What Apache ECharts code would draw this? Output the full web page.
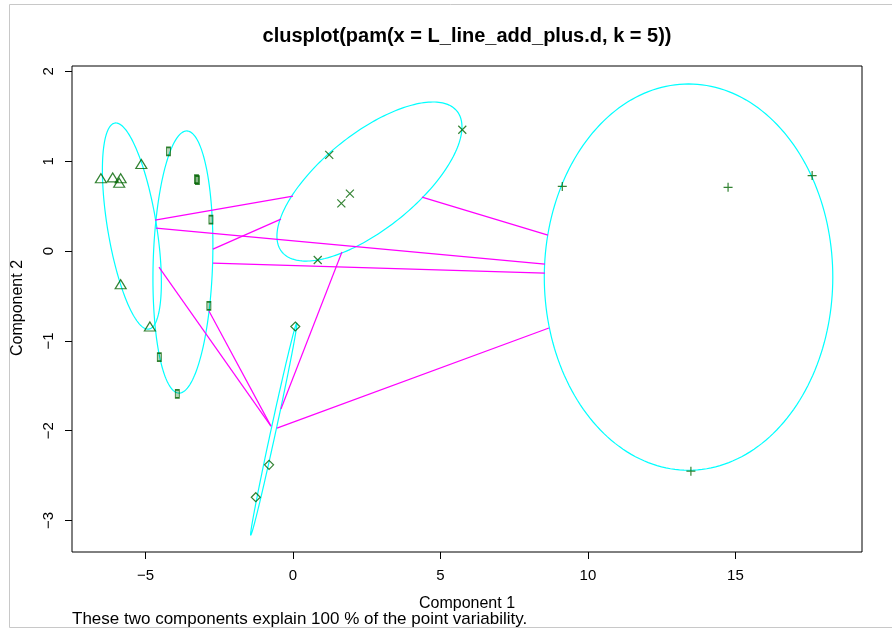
<!DOCTYPE html>
<html>
<head>
<meta charset="utf-8">
<script src="https://cdn.jsdelivr.net/npm/echarts@6/dist/echarts.min.js"></script>
<style>
  html, body { margin: 0; padding: 0; background: #fff; }
  #main { width: 892px; height: 630px; }
</style>
</head>
<body>
<div id="main"></div>
<script>
// points of each cluster (component 1 / component 2)
var triX = [-6.51, -6.11, -5.84, -5.89, -5.14, -5.84, -4.85];
var triY = [0.81, 0.82, 0.81, 0.76, 0.97, -0.37, -0.84];
var rectX = [-4.22, -3.27, -3.24, -2.78, -2.85, -4.53, -3.92];
var rectY = [1.11, 0.80, 0.79, 0.35, -0.61, -1.18, -1.59];
var crossX = [1.23, 5.74, 1.93, 1.64, 0.84];
var crossY = [1.07, 1.35, 0.64, 0.53, -0.10];
var diaX = [0.08, -0.81, -1.26];
var diaY = [-0.84, -2.38, -2.74];
var plusX = [9.13, 14.75, 17.60, 13.49];
var plusY = [0.72, 0.71, 0.84, -2.45];

// ellipses: centre and two conjugate half axes
var ellCX = [-5.46, -3.73, 2.593, -0.651, 13.41];
var ellCY = [0.278, -0.122, 0.774, -1.982, -0.29];
var ellU = [[-0.576, 1.147], [0.136, 1.459], [3.136, 0.608], [0.780, 1.180], [4.89, 0]];
var ellV = [[0.817, 0.044], [1.007, -0.010], [0, 0.6436], [0.0827, -0.0059], [0, 2.15]];

// distance segments between ellipses
var segFrom = [[-4.678, 0.345], [-4.644, 0.256], [-2.712, 0.022], [-2.712, -0.134], [4.373, 0.601],
               [1.661, -0.011], [-4.542, -0.178], [-2.847, -0.668], [-0.542, -1.971]];
var segTo = [[0.0, 0.612], [8.542, -0.145], [-0.407, 0.356], [8.542, -0.245], [8.644, 0.178],
             [-0.407, -1.759], [-0.746, -1.949], [-0.746, -1.949], [8.678, -0.857]];

var xTicks = [-5, 0, 5, 10, 15];
var yTicks = [-3, -2, -1, 0, 1, 2];

var GREEN = '#006400';
var FONT = '"Liberation Sans", Arial, sans-serif';

function pairs(xs, ys) {
    var out = [];
    for (var i = 0; i < xs.length; i++) out.push([xs[i], ys[i]]);
    return out;
}
function fmt(v) {
    return v < 0 ? '\u2212' + Math.abs(v) : String(v);
}

var ellData = [];
for (var i = 0; i < ellCX.length; i++) ellData.push([ellCX[i], ellCY[i], i]);

var segData = [];
for (var j = 0; j < segFrom.length; j++) segData.push({coords: [segFrom[j], segTo[j]]});

var chart = echarts.init(document.getElementById('main'));
var option = {
    animation: false,
    backgroundColor: '#fff',
    grid: {left: 72, top: 66, width: 790, height: 486, show: true, borderColor: '#000', borderWidth: 1},
    xAxis: {
        type: 'value', min: -7.49, max: 19.29,
        splitLine: {show: false}, axisLine: {show: false, onZero: false},
        axisTick: {show: true, length: 7, lineStyle: {color: '#000'}, customValues: xTicks},
        axisLabel: {color: '#000', fontSize: 15, fontFamily: FONT, margin: 16, customValues: xTicks, formatter: fmt}
    },
    yAxis: {
        type: 'value', min: -3.35, max: 2.06,
        splitLine: {show: false}, axisLine: {show: false, onZero: false},
        axisTick: {show: true, length: 7, lineStyle: {color: '#000'}, customValues: yTicks},
        axisLabel: {color: '#000', fontSize: 15, fontFamily: FONT, margin: 16, rotate: 90, customValues: yTicks, formatter: fmt}
    },
    graphic: [
        {type: 'line', shape: {x1: 9.5, y1: 4.5, x2: 892, y2: 4.5}, style: {stroke: '#c8c8c8', lineWidth: 1}},
        {type: 'line', shape: {x1: 9.5, y1: 4.5, x2: 9.5, y2: 627.5}, style: {stroke: '#c8c8c8', lineWidth: 1}},
        {type: 'line', shape: {x1: 9.5, y1: 627.5, x2: 892, y2: 627.5}, style: {stroke: '#c8c8c8', lineWidth: 1}},
        {type: 'text', x: 467, y: 36, style: {text: 'clusplot(pam(x = L_line_add_plus.d, k = 5))', fill: '#000',
            font: 'bold 20px ' + FONT, textAlign: 'center', textVerticalAlign: 'middle'}},
        {type: 'text', x: 467, y: 604, style: {text: 'Component 1', fill: '#000',
            font: '16px ' + FONT, textAlign: 'center', textVerticalAlign: 'middle'}},
        {type: 'text', x: 72, y: 619, style: {text: 'These two components explain 100 % of the point variability.', fill: '#000',
            font: '17px ' + FONT, textAlign: 'left', textVerticalAlign: 'middle'}},
        {type: 'text', x: 18, y: 308, rotation: Math.PI / 2, style: {text: 'Component 2', fill: '#000',
            font: '16px ' + FONT, textAlign: 'center', textVerticalAlign: 'middle'}}
    ],
    series: [
        {
            type: 'custom', clip: false, data: ellData, z: 2,
            renderItem: function (params, api) {
                var k = api.value(2);
                var pts = [];
                for (var t = 0; t < 200; t++) {
                    var a = t / 200 * Math.PI * 2;
                    pts.push(api.coord([
                        ellCX[k] + ellU[k][0] * Math.cos(a) + ellV[k][0] * Math.sin(a),
                        ellCY[k] + ellU[k][1] * Math.cos(a) + ellV[k][1] * Math.sin(a)
                    ]));
                }
                return {type: 'polygon', shape: {points: pts}, style: {fill: 'none', stroke: '#00ffff', lineWidth: 1.2}};
            }
        },
        {
            type: 'lines', coordinateSystem: 'cartesian2d', data: segData, z: 3,
            lineStyle: {color: '#ff00ff', width: 1.2, opacity: 1}
        },
        {
            type: 'scatter', data: pairs(triX, triY), symbol: 'triangle', symbolSize: [11, 9], z: 5,
            itemStyle: {color: 'rgba(0,0,0,0)', borderColor: GREEN, borderWidth: 1.2}
        },
        {
            type: 'scatter', data: pairs(rectX, rectY), symbol: 'rect', symbolSize: [4, 8], z: 5,
            itemStyle: {color: 'rgba(0,100,0,0.35)', borderColor: GREEN, borderWidth: 1.2}
        },
        {
            type: 'scatter', data: pairs(crossX, crossY), symbol: 'path://M0,0L10,10M10,0L0,10', symbolSize: 8, z: 5,
            itemStyle: {color: 'none', borderColor: GREEN, borderWidth: 1.2}
        },
        {
            type: 'scatter', data: pairs(diaX, diaY), symbol: 'diamond', symbolSize: 9, z: 5,
            itemStyle: {color: 'rgba(0,0,0,0)', borderColor: GREEN, borderWidth: 1.2}
        },
        {
            type: 'scatter', data: pairs(plusX, plusY), symbol: 'path://M5,0L5,10M0,5L10,5', symbolSize: 9, z: 5,
            itemStyle: {color: 'none', borderColor: GREEN, borderWidth: 1.2}
        }
    ]
};
chart.setOption(option);
</script>
</body>
</html>
